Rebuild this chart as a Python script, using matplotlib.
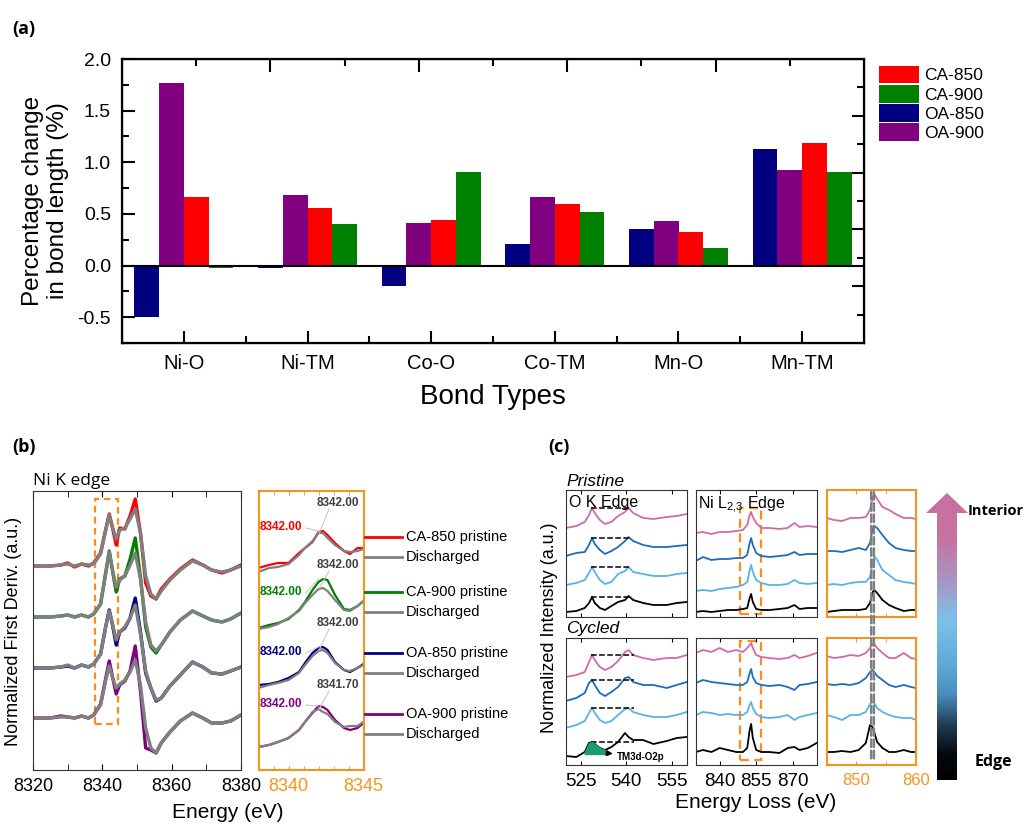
import numpy as np
import matplotlib.pyplot as plt
from matplotlib.patches import Polygon, Rectangle, ConnectionPatch
from matplotlib.lines import Line2D
from matplotlib.colors import LinearSegmentedColormap

plt.rcParams['font.family'] = ['Liberation Sans', 'DejaVu Sans']
plt.rcParams['mathtext.default'] = 'regular'

# ---------------- (a) bond length change ----------------
bonds = ['Ni-O', 'Ni-TM', 'Co-O', 'Co-TM', 'Mn-O', 'Mn-TM']
oa850 = [-0.50, -0.02, -0.20, 0.21, 0.35, 1.13]
oa900 = [1.77, 0.68, 0.41, 0.66, 0.43, 0.93]
ca850 = [0.66, 0.56, 0.44, 0.60, 0.32, 1.19]
ca900 = [-0.02, 0.40, 0.91, 0.52, 0.17, 0.91]

# ---------------- (b) Ni K edge first derivative ----------------
e_b = [8320, 8325, 8328, 8330, 8332, 8334, 8336, 8337.5, 8339.5, 8341, 8342, 8343, 8344,
       8345, 8346.5, 8348, 8349.5, 8351, 8352.5, 8354, 8355.5, 8357, 8359.5, 8362.5, 8366,
       8369, 8371.5, 8374.5, 8377, 8380]
base_b = [204, 153, 102, 52]
ca850_p = [0, 0, 1, 3, -1, 2, 0, 3, 13, 37, 52, 37, 21, 38, 37, 50, 67, 33, -17, -30, -33, -23, -13, -3, 6, 1, -4, -7, -4, 1]
ca850_d = [0, 0, 1, 2, 0, 2, 1, 2, 12, 36, 51, 38, 27, 36, 38, 47, 57, 33, -10, -28, -33, -25, -14, -4, 5, 1, -4, -6, -4, 0]
ca900_p = [0, 0, 1, 2, 0, 2, 0, 3, 13, 45, 66, 45, 25, 38, 41, 58, 79, 40, -10, -30, -36, -28, -15, -3, 6, 1, -3, -5, -2, 4]
ca900_d = [0, 0, 1, 2, 0, 2, 0, 3, 13, 44, 65, 46, 30, 37, 41, 52, 64, 38, -5, -28, -34, -28, -15, -3, 6, 1, -3, -5, -2, 4]
oa850_p = [0, 0, 1, 2, 0, 3, 1, 4, 14, 42, 58, 42, 23, 36, 40, 50, 70, 36, -5, -20, -33, -30, -18, -7, 6, 1, -5, -6, -3, 1]
oa850_d = [0, 0, 1, 3, 0, 3, 1, 4, 14, 42, 57, 43, 28, 36, 41, 50, 63, 34, -3, -20, -32, -30, -18, -7, 6, 1, -5, -6, -3, 1]
oa900_p = [0, 0, 2, 1, 0, 2, 0, 3, 14, 40, 57, 40, 24, 33, 37, 47, 72, 27, -30, -32, -35, -25, -14, -3, 5, 0, -5, -5, -3, 3]
oa900_d = [0, 0, 1, 1, 0, 2, 0, 3, 13, 38, 52, 40, 30, 34, 38, 46, 58, 33, -10, -30, -35, -25, -14, -3, 5, 0, -5, -5, -3, 3]

# zoom of the pre-edge peak
e_bi = [8338.0, 8338.7, 8339.3, 8340.0, 8340.7, 8341.1, 8341.6, 8342.0, 8342.3, 8342.6,
        8343.1, 8343.7, 8344.1, 8344.6, 8345.0]
ca850_pi = [202, 205, 207, 207, 217, 222, 228, 238, 239, 235, 227, 219, 216, 222, 222]
ca850_di = [198, 202, 203, 206, 215, 222, 229, 237, 237, 232, 225, 219, 218, 219, 221]
ca900_pi = [142, 145, 147, 151, 160, 168, 180, 188, 191, 190, 175, 161, 160, 164, 169]
ca900_di = [141, 143, 146, 152, 159, 167, 175, 181, 182, 179, 170, 160, 159, 164, 169]
oa850_pi = [85, 86, 88, 92, 98, 107, 117, 122, 123, 120, 108, 100, 98, 102, 106]
oa850_di = [82, 85, 87, 90, 97, 105, 114, 119, 120, 117, 107, 100, 99, 102, 105]
oa900_pi = [23, 25, 28, 32, 40, 48, 57, 64, 63, 60, 50, 42, 40, 42, 47]
oa900_di = [23, 25, 28, 32, 40, 48, 58, 61, 58, 56, 48, 43, 44, 44, 48]
peak_p = ['8342.00', '8342.00', '8342.00', '8342.00']
peak_d = ['8342.00', '8342.00', '8342.00', '8341.70']
legend_b = ['CA-850 pristine', 'CA-900 pristine', 'OA-850 pristine', 'OA-900 pristine']

# ---------------- (c) EELS ----------------
e_ok = [520.0, 523.5, 526.3, 527.7, 528.7, 529.6, 531.3, 533.0, 535.1, 537.3, 539.6, 540.8,
        542.3, 545.6, 549.0, 553.4, 556.7, 560.0]
ok_pristine = [  # edge -> interior
    [5, 6, 9, 14, 20, 14, 9, 7, 11, 15, 17, 21, 17, 14, 12, 12, 14, 15],
    [32, 34, 37, 44, 50, 45, 37, 33, 35, 43, 46, 50, 45, 43, 41, 41, 43, 44],
    [61, 64, 65, 72, 79, 73, 67, 63, 66, 70, 76, 80, 76, 72, 70, 70, 71, 72],
    [89, 91, 95, 102, 109, 104, 97, 93, 95, 101, 105, 109, 104, 99, 98, 100, 101, 103],
]
ok_cycled = [
    [9, 8, 13, 22, 23, 21, 17, 15, 18, 23, 32, 28, 25, 25, 21, 24, 27, 28],
    [37, 40, 44, 52, 57, 52, 45, 42, 44, 50, 56, 57, 53, 50, 48, 48, 50, 53],
    [64, 67, 72, 82, 85, 80, 72, 69, 73, 78, 87, 88, 83, 80, 80, 77, 80, 83],
    [88, 90, 93, 103, 110, 105, 98, 95, 98, 104, 113, 115, 110, 107, 105, 107, 107, 110],
]

e_ni = [830.0, 833.0, 836.5, 839.9, 843.3, 846.8, 849.5, 851.3, 852.3, 852.9, 853.6, 855.0,
        857.1, 860.5, 864.6, 868.0, 870.8, 872.9, 876.3, 880.0]
ni_pristine = [
    [5, 6, 5, 6, 7, 7, 8, 9, 19, 23, 15, 8, 7, 7, 8, 9, 12, 8, 9, 9],
    [26, 27, 26, 28, 29, 30, 32, 35, 47, 52, 45, 37, 34, 32, 32, 33, 37, 34, 33, 34],
    [56, 60, 57, 58, 58, 59, 59, 62, 74, 79, 72, 64, 61, 60, 61, 62, 65, 62, 63, 63],
    [84, 85, 83, 85, 85, 86, 87, 92, 102, 105, 100, 94, 89, 89, 88, 89, 94, 90, 91, 90],
]
ni_cycled = [
    [13, 15, 13, 17, 15, 13, 13, 17, 35, 41, 27, 15, 13, 13, 12, 17, 18, 15, 17, 22],
    [50, 53, 52, 50, 51, 50, 50, 53, 60, 63, 57, 51, 48, 47, 48, 50, 45, 48, 50, 52],
    [82, 85, 83, 82, 81, 80, 80, 83, 92, 96, 88, 82, 80, 79, 80, 78, 75, 80, 81, 83],
    [112, 115, 113, 117, 113, 115, 113, 117, 120, 122, 117, 110, 108, 107, 106, 107, 110, 107, 109, 112],
]

e_nz = [845.0, 846.2, 847.6, 849.0, 850.4, 851.6, 852.3, 852.75, 853.0, 853.5, 854.4, 855.5,
        856.6, 858.0, 859.2, 860.0]
nz_pristine = [
    [5, 6, 7, 7, 7, 8, 14, 25, 27, 24, 17, 12, 9, 6, 7, 7],
    [32, 33, 32, 34, 35, 35, 40, 55, 61, 57, 47, 42, 37, 35, 34, 33],
    [66, 66, 65, 67, 69, 67, 74, 89, 91, 89, 82, 74, 69, 67, 66, 66],
    [99, 97, 96, 99, 99, 100, 107, 119, 123, 118, 110, 107, 103, 99, 99, 98],
]
nz_cycled = [
    [13, 13, 14, 13, 15, 22, 40, 38, 33, 23, 17, 13, 13, 15, 13, 13],
    [50, 48, 45, 50, 50, 53, 61, 63, 62, 57, 53, 50, 48, 47, 47, 45],
    [81, 80, 81, 80, 82, 87, 93, 95, 93, 89, 85, 80, 78, 80, 78, 77],
    [109, 107, 108, 110, 109, 112, 117, 121, 121, 117, 112, 107, 107, 112, 107, 106],
]
ni_lines = [852.5, 852.95]

W, H = 1024, 826
fig = plt.figure(figsize=(W / 100, H / 100), dpi=100)


def box(l, t, r, b):
    return fig.add_axes([l / W, 1 - b / H, (r - l) / W, (b - t) / H])


def ftext(x, y, s, **kw):
    fig.text(x / W, 1 - y / H, s, **kw)


orange = '#f7941d'

# ================= panel (a) =================
ax = box(122, 59, 864, 343)
x = np.arange(1, 7)
bars = {}
for off, vals, c, lab in [(-0.3, oa850, '#000080', 'OA-850'), (-0.1, oa900, '#800080', 'OA-900'),
                          (0.1, ca850, '#ff0000', 'CA-850'), (0.3, ca900, '#008000', 'CA-900')]:
    bars[lab] = ax.bar(x + off, vals, 0.2, color=c, label=lab)
ax.axhline(0, color='black', lw=1.5)
ax.set_xlim(0.5, 6.5)
ax.set_ylim(-0.75, 2.0)
ax.set_xticks(x)
ax.set_xticklabels(bonds, fontsize=14.5)
ax.set_xticks(np.arange(1.5, 6.5, 1), minor=True)
ax.set_yticks([-0.5, 0, 0.5, 1.0, 1.5, 2.0])
ax.set_yticklabels(['-0.5', '0.0', '0.5', '1.0', '1.5', '2.0'], fontsize=14)
ax.set_yticks(np.arange(-0.75, 2.0, 0.25), minor=True)
ax.tick_params(which='major', direction='in', length=9, width=1.5, pad=8)
ax.tick_params(which='minor', direction='in', length=5, width=1.5)
for s in ax.spines.values():
    s.set_linewidth(1.6)
ax.set_xlabel('Bond Types', fontsize=20, labelpad=8)
ax.set_ylabel('Percentage change\nin bond length (%)', fontsize=17.5, labelpad=6, linespacing=1.2)
top = ax.twiny()
top.set_xlim(0, 10)
top.set_xticks([2, 4, 6, 8])
top.set_xticks([1, 3, 5, 7, 9], minor=True)
top.tick_params(which='major', direction='in', length=9, width=1.5, labeltop=False)
top.tick_params(which='minor', direction='in', length=5, width=1.5)
right = ax.twinx()
right.set_ylim(0, 10)
right.set_yticks([2, 4, 6, 8])
right.set_yticks([1, 3, 5, 7, 9], minor=True)
right.tick_params(which='major', direction='in', length=9, width=1.5, labelright=False)
right.tick_params(which='minor', direction='in', length=5, width=1.5)
order = ['CA-850', 'CA-900', 'OA-850', 'OA-900']
ax.legend([bars[k] for k in order], order, loc='upper left', bbox_to_anchor=(870 / W, 1 - 57 / H),
          bbox_transform=fig.transFigure, frameon=False, fontsize=12.5, handlelength=2.3,
          handleheight=1.2, labelspacing=0.08, handletextpad=0.3, borderpad=0)
ftext(12, 29, '(a)', fontsize=13, fontweight='bold', family='Open Sans', va='center')

# ================= panel (b) =================
cols_b = ['#ff0000', '#008000', '#000080', '#800080']
prist_b = [ca850_p, ca900_p, oa850_p, oa900_p]
disch_b = [ca850_d, ca900_d, oa850_d, oa900_d]
prist_bi = [ca850_pi, ca900_pi, oa850_pi, oa900_pi]
disch_bi = [ca850_di, ca900_di, oa850_di, oa900_di]

axb = box(33, 491, 241, 770)
for base, p, d, c in zip(base_b, prist_b, disch_b, cols_b):
    axb.plot(e_b, base + np.array(p), color=c, lw=2.4)
    axb.plot(e_b, base + np.array(d), color='#7f7f7f', lw=2.4)
axb.add_patch(Rectangle((8338, 46), 6.6, 225, fill=False, ec='#ff8c1a', lw=1.6, ls=(0, (3, 2))))
axb.set_xlim(8320, 8380)
axb.set_ylim(0, 279)
axb.set_yticks([])
axb.set_xticks([8320, 8340, 8360, 8380])
axb.set_xticks(np.arange(8330, 8380, 10), minor=True)
axb.tick_params(axis='x', which='both', direction='in', top=True, labelsize=13, length=4, pad=6)
for s in axb.spines.values():
    s.set_color('#333333')

axi = box(258.5, 491, 363.5, 770)
for p, d, c in zip(prist_bi, disch_bi, cols_b):
    axi.plot(e_bi, p, color=c, lw=1.6)
    axi.plot(e_bi, d, color='#7f7f7f', lw=1.6)
for i, c in enumerate(cols_b):
    lp = [243, 178, 118, 66][i]
    ld = [267, 205, 147, 85][i]
    axi.text(8338.1, lp, peak_p[i], color=c, fontsize=8.5, fontweight='bold', va='center', ha='left')
    axi.text(8341.9, ld, peak_d[i], color='#404040', fontsize=8.5, fontweight='bold', va='center', ha='left')
    axi.plot([8341.15, 8342.0], [lp - 1, max(prist_bi[i])], color='#c8c8c8', lw=0.8)
    axi.plot([8342.7, 8342.05], [ld - 6, max(disch_bi[i])], color='#c8c8c8', lw=0.8)
axi.set_xlim(8338, 8345)
axi.set_ylim(0, 279)
axi.set_yticks([])
axi.set_xticks([8340, 8345])
axi.set_xticks(np.arange(8339, 8345, 1), minor=True)
axi.tick_params(axis='x', which='both', direction='in', top=True, colors=orange, labelcolor=orange,
                labelsize=13, length=3, pad=6)
for s in axi.spines.values():
    s.set_color(orange)
    s.set_linewidth(1.5)

leg_y = [537, 592, 653, 714]
for y0, lab, c in zip(leg_y, legend_b, cols_b):
    fig.add_artist(Line2D([365 / W, 402 / W], [1 - y0 / H] * 2, color=c, lw=2))
    fig.add_artist(Line2D([365 / W, 402 / W], [1 - (y0 + 20) / H] * 2, color='#7f7f7f', lw=2))
    ftext(406, y0, lab, fontsize=10.5, va='center')
    ftext(406, y0 + 20, 'Discharged', fontsize=10.5, va='center')

ftext(33, 481, 'Ni K edge', fontsize=12.5, family='Open Sans', va='center')
ftext(14, 631, 'Normalized First Deriv. (a.u.)', fontsize=13, rotation=90, ha='center', va='center')
ftext(228, 812, 'Energy (eV)', fontsize=15, ha='center', va='center')
ftext(12, 447, '(b)', fontsize=13, fontweight='bold', family='Open Sans', va='center')

# ================= panel (c) =================
cols_c = ['#000000', '#55b3ea', '#1c6cbd', '#d06aa8']
ok_p = box(565.7, 490, 686.7, 617)
ok_c = box(565.7, 638.3, 686.7, 765)
ni_p = box(695.7, 490, 816.7, 617)
ni_c = box(695.7, 638.3, 816.7, 765)
nz_p = box(826.7, 490, 915.7, 617)
nz_c = box(826.7, 638.3, 915.7, 765)

for a, data in [(ok_p, ok_pristine), (ok_c, ok_cycled)]:
    for ys, c in zip(data, cols_c):
        a.plot(e_ok, ys, color=c, lw=1.3)
for ys in ok_pristine:
    ok_p.plot([528.5, 540.8], [max(ys[3:6]), max(ys[3:6])], color='black', ls='--', lw=1.1)
for ys in ok_cycled:
    ok_c.plot([528.3, 542.5], [max(ys[3:6]), max(ys[3:6])], color='black', ls='--', lw=1.1)
blk = ok_cycled[0]
ok_c.fill_between(e_ok[2:8], blk[2:8], 11, color='#1a9e6e', zorder=3)
ok_c.annotate('', xy=(536.5, 11), xytext=(533.0, 12),
              arrowprops=dict(arrowstyle='-|>', color='black', lw=1.2, mutation_scale=8))
ok_c.text(536.8, 8.5, 'TM3d-O2p', fontsize=7, fontweight='bold', va='center')

for a, data in [(ni_p, ni_pristine), (ni_c, ni_cycled)]:
    for ys, c in zip(data, cols_c):
        a.plot(e_ni, ys, color=c, lw=1.3)
ni_p.add_patch(Rectangle((848.3, 3), 8.6, 106, fill=False, ec='#ff8c1a', lw=1.6, ls=(0, (4, 2.5))))
ni_c.add_patch(Rectangle((848.1, 5), 8.7, 119, fill=False, ec='#ff8c1a', lw=1.6, ls=(0, (4, 2.5))))

for a, data in [(nz_p, nz_pristine), (nz_c, nz_cycled)]:
    for ys, c in zip(data, cols_c):
        a.plot(e_nz, ys, color=c, lw=1.3)

for a in [ok_p, ok_c]:
    a.set_xlim(520, 560)
    a.set_xticks([525, 540, 555])
for a in [ni_p, ni_c]:
    a.set_xlim(830, 880)
    a.set_xticks([840, 855, 870])
for a in [nz_p, nz_c]:
    a.set_xlim(845, 860)
    a.set_xticks([850, 860])
    a.set_xticks([855], minor=True)
for a in [ok_p, ni_p, nz_p]:
    a.set_ylim(0, 127)
for a in [ok_c, ni_c, nz_c]:
    a.set_ylim(0, 126.7)
for a in [ok_p, ok_c, ni_p, ni_c, nz_p, nz_c]:
    a.set_yticks([])
    a.tick_params(axis='x', which='both', direction='in', top=True, length=3, labelsize=13.5, pad=6)
for a in [ok_p, ni_p, nz_p]:
    a.tick_params(axis='x', which='both', labelbottom=False)
for a in [ok_p, ok_c, ni_p, ni_c]:
    for s in a.spines.values():
        s.set_color('#333333')
for a in [nz_p, nz_c]:
    a.tick_params(axis='x', which='both', colors=orange, labelcolor=orange, labelsize=12)
    for s in a.spines.values():
        s.set_color(orange)
        s.set_linewidth(1.5)

for e in ni_lines:
    con = ConnectionPatch(xyA=(e, 125), coordsA=nz_p.transData, xyB=(e, 5), coordsB=nz_c.transData,
                          color='#7f7f7f', lw=1.8, ls=(0, (3, 1.5)))
    fig.add_artist(con)

ok_p.text(521, 122, 'O K Edge', fontsize=11.5, va='top')
ni_p.text(831, 122, 'Ni L$_{2{,}3}$ Edge', fontsize=11.5, va='top')
ftext(566, 482, 'Pristine', fontsize=12.5, style='italic', va='center')
ftext(566, 629, 'Cycled', fontsize=12.5, style='italic', va='center')
ftext(550, 628, 'Normalized Intensity (a.u.)', fontsize=13, rotation=90, ha='center', va='center')
ftext(756, 802, 'Energy Loss (eV)', fontsize=15, ha='center', va='center')
ftext(548, 447, '(c)', fontsize=13, fontweight='bold', family='Open Sans', va='center')

# gradient arrow
axa = box(922, 488, 972, 784)
axa.set_xlim(922, 972)
axa.set_ylim(784, 488)
axa.axis('off')
cmap = LinearSegmentedColormap.from_list('arrow', [
    (0.0, '#000000'), (0.09, '#050a0f'), (0.19, '#1f3c52'), (0.30, '#4a8fbe'),
    (0.40, '#5fa9d7'), (0.56, '#7cc2ea'), (0.67, '#a19ccb'), (0.84, '#c6739f'), (1.0, '#c8709f')])
grad = np.linspace(1, 0, 256).reshape(-1, 1)
im = axa.imshow(grad, cmap=cmap, aspect='auto', extent=(922, 972, 780, 493), origin='upper')
arrow = Polygon([(937, 780), (957, 780), (957, 513), (968, 513), (947, 493), (926, 513), (937, 513)],
                closed=True, fc='none', ec='none')
axa.add_patch(arrow)
im.set_clip_path(arrow)
ftext(968, 511, 'Interior', fontsize=10.5, fontweight='bold', family='Open Sans', va='center')
ftext(975, 762, 'Edge', fontsize=11.5, fontweight='bold', family='Open Sans', va='center')

fig.savefig('out.png', dpi=100)
